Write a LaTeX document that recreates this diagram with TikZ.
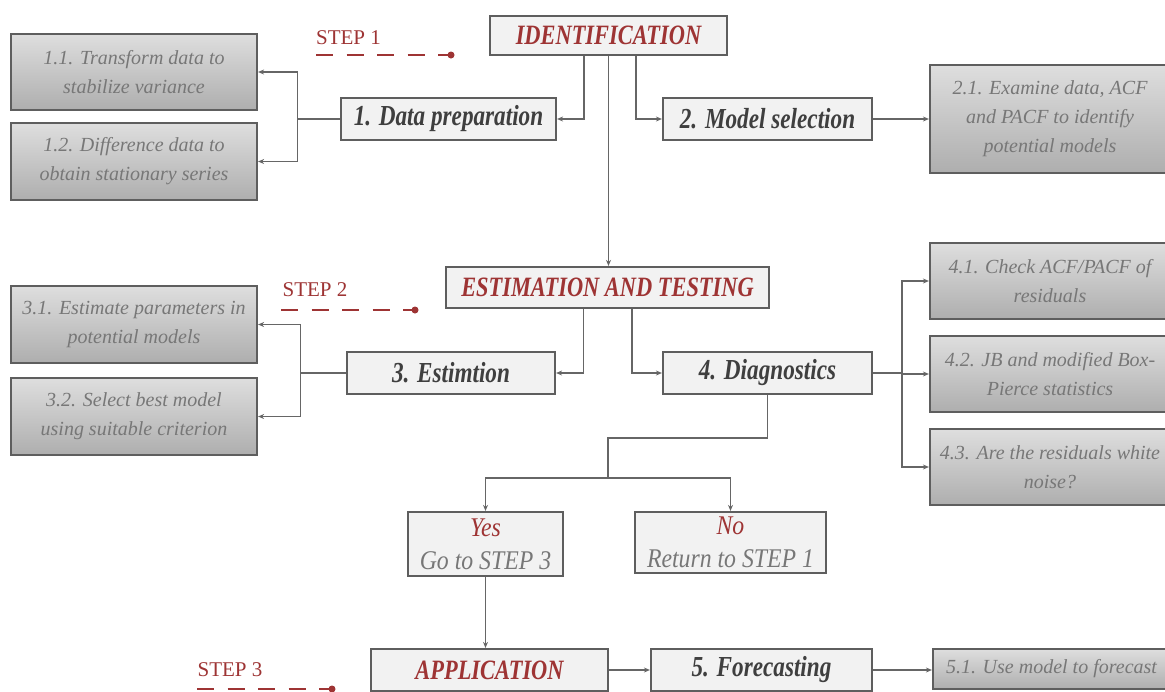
\documentclass[tikz,border=0pt]{standalone}
\usepackage{fontspec}
\setmainfont{Liberation Serif}
\newfontfamily\cond[FakeStretch=0.8]{Liberation Serif}
\newfontfamily\condb[FakeStretch=0.88]{Liberation Serif}
\usetikzlibrary{arrows.meta}
\definecolor{redt}{HTML}{9E3434}
\definecolor{boxline}{HTML}{5E5E5E}
\definecolor{mainfill}{HTML}{F2F2F2}
\definecolor{maintext}{HTML}{3F3F3F}
\definecolor{subtext}{HTML}{777777}
\definecolor{subtop}{HTML}{DEDEDE}
\definecolor{subbot}{HTML}{AEAEAE}
\definecolor{conn}{HTML}{666666}
\tikzset{
  mainbox/.style={draw=boxline, line width=2.2pt, fill=mainfill, inner sep=0pt,
    text=maintext, font=\cond\bfseries\itshape\fontsize{29}{32}\selectfont},
  titlebox/.style={mainbox, text=redt, font=\cond\bfseries\itshape\fontsize{28}{30}\selectfont},
  subbox/.style={draw=boxline, line width=2.2pt, top color=subtop, bottom color=subbot,
    inner sep=0pt, align=center, text=subtext,
    font=\itshape\fontsize{20}{29}\selectfont},
  decbox/.style={draw=boxline, line width=2.2pt, fill=mainfill, inner sep=0pt, align=center,
    text=subtext, font=\condb\itshape\fontsize{27}{33}\selectfont},
  conn/.style={draw=conn, line width=1.6pt},
  arr/.style={conn, -{Stealth[length=6pt,width=5pt]}},
  steplabel/.style={text=redt, font=\fontsize{21}{24}\selectfont, inner sep=0pt},
  stepline/.style={draw=redt, line width=2pt, dash pattern=on 17pt off 13.5pt},
  stepdot/.style={fill=redt, draw=none, circle, minimum size=7pt, inner sep=0pt}
}
\begin{document}
\begin{tikzpicture}[x=1pt,y=-1pt]
\useasboundingbox (0,0) rectangle (1165,691);
\clip (0,0) rectangle (1165,691);
\fill[white] (0,0) rectangle (1165,691);

% STEP 1
\node[titlebox, minimum width=237pt, minimum height=39pt] (ident) at (608.5,35.5) {IDENTIFICATION};
\node[steplabel] (step1) at (348.5,38) {STEP 1};
\node[stepdot] (dot1) at (451,55) {};
\draw[stepline] (316,55) -- (dot1.center);

\node[subbox, minimum width=246pt, minimum height=76pt] (s11) at (134,72) {1.1. Transform data to\\stabilize variance};
\node[subbox, minimum width=246pt, minimum height=77pt] (s12) at (134,161.5) {1.2. Difference data to\\obtain stationary series};
\node[mainbox, minimum width=215pt, minimum height=42pt] (prep) at (448.5,119) {1. Data preparation};
\node[mainbox, minimum width=209pt, minimum height=42pt] (msel) at (767.5,119) {2. Model selection};
\node[subbox, minimum width=240pt, minimum height=108pt] (s21) at (1050,119) {2.1. Examine data, ACF\\and PACF to identify\\potential models};

% STEP 2
\node[titlebox, minimum width=323pt, minimum height=41pt] (est) at (607.5,287.5) {ESTIMATION AND TESTING};
\node[steplabel] (step2) at (315,290) {STEP 2};
\node[stepdot] (dot2) at (415,310) {};
\draw[stepline] (281,310) -- (dot2.center);

\node[subbox, minimum width=246pt, minimum height=77pt] (s31) at (134,324.5) {3.1. Estimate parameters in\\potential models};
\node[subbox, minimum width=246pt, minimum height=77pt] (s32) at (134,416.5) {3.2. Select best model\\using suitable criterion};
\node[mainbox, minimum width=208pt, minimum height=42pt] (estim) at (451,373) {3. Estimtion};
\node[mainbox, minimum width=209pt, minimum height=42pt] (diag) at (767.5,373) {4. Diagnostics};
\node[subbox, minimum width=240pt, minimum height=76pt] (s41) at (1050,281) {4.1. Check ACF/PACF of\\residuals};
\node[subbox, minimum width=240pt, minimum height=76pt] (s42) at (1050,374) {4.2. JB and modified Box-\\Pierce statistics};
\node[subbox, minimum width=240pt, minimum height=76pt] (s43) at (1050,467) {4.3. Are the residuals white\\noise?};

\node[decbox, minimum width=155pt, minimum height=64pt] (yes) at (485.5,544) {\textcolor{redt}{Yes}\\Go to STEP 3};
\node[decbox, minimum width=191pt, minimum height=61pt] (no) at (730.5,542.5) {\textcolor{redt}{No}\\Return to STEP 1};

% STEP 3
\node[titlebox, minimum width=237pt, minimum height=42pt] (app) at (489.5,670) {APPLICATION};
\node[mainbox, minimum width=221pt, minimum height=42pt] (fore) at (761.5,670) {5. Forecasting};
\node[subbox, minimum width=237pt, minimum height=40pt] (s51) at (1051.5,669) {5.1. Use model to forecast};
\node[steplabel] (step3) at (230,670) {STEP 3};
\node[stepdot] (dot3) at (332,689) {};
\draw[stepline] (197,689) -- (dot3.center);

% connectors step 1
\draw[arr] ([xshift=-24.5pt]ident.south) |- (prep.east);
\draw[arr] ([xshift=27.5pt]ident.south) |- (msel.west);
\draw[arr] (ident.south) -- (ident.south |- est.north);
\draw[conn] (prep.west) -- ++(-42.5,0) coordinate (j1);
\draw[arr] (j1) |- (s11.east);
\draw[arr] (j1) |- (s12.east);
\draw[arr] (msel.east) -- (s21.west |- msel.east);

% connectors step 2
\draw[arr] ([xshift=-24pt]est.south) |- (estim.east);
\draw[arr] ([xshift=24.5pt]est.south) |- (diag.west);
\draw[conn] (estim.west) -- ++(-45.5,0) coordinate (j2);
\draw[arr] (j2) |- (s31.east);
\draw[arr] (j2) |- (s32.east);
\draw[conn] (diag.east) -- ++(29,0) coordinate (j3);
\draw[arr] (j3) |- (s41.west);
\draw[arr] (j3) |- (s42.west);
\draw[arr] (j3) |- (s43.west);
\coordinate (j4) at (608,478);
\draw[conn] (diag.south) -- ++(0,43) -| (j4);
\draw[arr] (j4) -| (yes.north);
\draw[arr] (j4) -| (no.north);

% connectors step 3
\draw[arr] (yes.south) -- (yes.south |- app.north);
\draw[arr] (app.east) -- (fore.west);
\draw[arr] (fore.east) -- (s51.west |- fore.east);
\end{tikzpicture}
\end{document}
